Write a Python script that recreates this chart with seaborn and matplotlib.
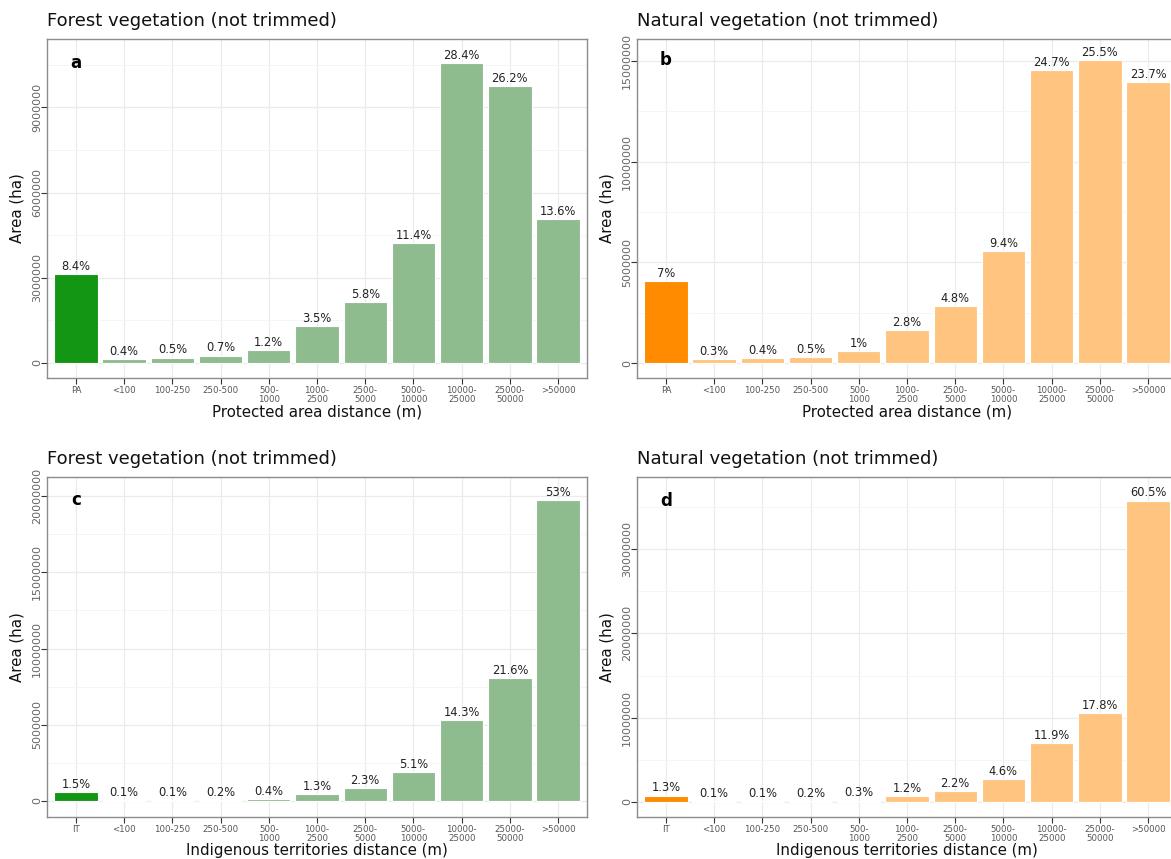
import matplotlib
matplotlib.use("Agg")
import matplotlib.pyplot as plt
from matplotlib.ticker import MultipleLocator, FuncFormatter
import seaborn as sns

# Distance classes
pa_classes = ["PA", "<100", "100-250", "250-500", "500-1000", "1000-2500",
              "2500-5000", "5000-10000", "10000-25000", "25000-50000", ">50000"]
it_classes = ["IT", "<100", "100-250", "250-500", "500-1000", "1000-2500",
              "2500-5000", "5000-10000", "10000-25000", "25000-50000", ">50000"]
pa_ticklabels = ["PA", "<100", "100-250", "250-500", "500-\n1000", "1000-\n2500",
                 "2500-\n5000", "5000-\n10000", "10000-\n25000", "25000-\n50000", ">50000"]
it_ticklabels = ["IT"] + pa_ticklabels[1:]

# Area (ha) per distance class
forest_pa_area = [3.12e6, 0.15e6, 0.19e6, 0.26e6, 0.45e6, 1.29e6, 2.16e6, 4.22e6, 10.56e6, 9.75e6, 5.06e6]
forest_pa_pct = ["8.4%", "0.4%", "0.5%", "0.7%", "1.2%", "3.5%", "5.8%", "11.4%", "28.4%", "26.2%", "13.6%"]

natural_pa_area = [4.09e6, 0.18e6, 0.24e6, 0.30e6, 0.59e6, 1.65e6, 2.83e6, 5.55e6, 14.57e6, 15.05e6, 13.98e6]
natural_pa_pct = ["7%", "0.3%", "0.4%", "0.5%", "1%", "2.8%", "4.8%", "9.4%", "24.7%", "25.5%", "23.7%"]

forest_it_area = [0.56e6, 0.037e6, 0.037e6, 0.075e6, 0.15e6, 0.48e6, 0.86e6, 1.90e6, 5.33e6, 8.05e6, 19.75e6]
forest_it_pct = ["1.5%", "0.1%", "0.1%", "0.2%", "0.4%", "1.3%", "2.3%", "5.1%", "14.3%", "21.6%", "53%"]

natural_it_area = [0.76e6, 0.059e6, 0.059e6, 0.118e6, 0.177e6, 0.71e6, 1.30e6, 2.72e6, 7.03e6, 10.52e6, 35.76e6]
natural_it_pct = ["1.3%", "0.1%", "0.1%", "0.2%", "0.3%", "1.2%", "2.2%", "4.6%", "11.9%", "17.8%", "60.5%"]

FOREST_DARK, FOREST_LIGHT = "#139613", "#8FBC8F"
NATURAL_DARK, NATURAL_LIGHT = "#FF8C00", "#FFC580"

panels = [
    dict(letter="a", title="Forest vegetation (not trimmed)", classes=pa_classes, ticks=pa_ticklabels,
         area=forest_pa_area, pct=forest_pa_pct, colors=(FOREST_DARK, FOREST_LIGHT),
         xlabel="Protected area distance (m)", step=3e6, ylim=(-0.53e6, 11.41e6),
         pos=[47, 39, 540, 339]),
    dict(letter="b", title="Natural vegetation (not trimmed)", classes=pa_classes, ticks=pa_ticklabels,
         area=natural_pa_area, pct=natural_pa_pct, colors=(NATURAL_DARK, NATURAL_LIGHT),
         xlabel="Protected area distance (m)", step=5e6, ylim=(-0.745e6, 16.10e6),
         pos=[637, 39, 540, 339]),
    dict(letter="c", title="Forest vegetation (not trimmed)", classes=it_classes, ticks=it_ticklabels,
         area=forest_it_area, pct=forest_it_pct, colors=(FOREST_DARK, FOREST_LIGHT),
         xlabel="Indigenous territories distance (m)", step=5e6, ylim=(-1.05e6, 21.25e6),
         pos=[47, 477, 540, 340]),
    dict(letter="d", title="Natural vegetation (not trimmed)", classes=it_classes, ticks=it_ticklabels,
         area=natural_it_area, pct=natural_it_pct, colors=(NATURAL_DARK, NATURAL_LIGHT),
         xlabel="Indigenous territories distance (m)", step=10e6, ylim=(-1.78e6, 38.55e6),
         pos=[637, 477, 540, 340]),
]

W, H = 1171, 859
fig = plt.figure(figsize=(W / 100, H / 100), dpi=100)
fig.patch.set_facecolor("white")

for p in panels:
    x0, y0, w, h = p["pos"]
    ax = fig.add_axes([x0 / W, 1 - (y0 + h) / H, w / W, h / H])
    dark, light = p["colors"]
    palette = {c: (dark if i == 0 else light) for i, c in enumerate(p["classes"])}
    sns.barplot(x=p["classes"], y=p["area"], hue=p["classes"], palette=palette,
                order=p["classes"], hue_order=p["classes"], legend=False,
                width=0.9, edgecolor="white", linewidth=0.8, saturation=1, ax=ax)

    for i, (v, lab) in enumerate(zip(p["area"], p["pct"])):
        ax.annotate(lab, (i, v), xytext=(0, 0.8), textcoords="offset points",
                    ha="center", va="bottom", fontsize=8.3, color="#222222")

    ax.text(0, max(p["area"]), p["letter"], ha="center", va="center",
            fontsize=12, fontweight="bold", color="black")

    ax.set_xlim(-0.6, len(p["classes"]) - 0.4)
    ax.set_ylim(*p["ylim"])
    ax.yaxis.set_major_locator(MultipleLocator(p["step"]))
    ax.yaxis.set_minor_locator(MultipleLocator(p["step"] / 2))
    ax.yaxis.set_major_formatter(FuncFormatter(lambda v, pos: f"{v:.0f}"))

    ax.set_xticks(range(len(p["ticks"])))
    ax.set_xticklabels(p["ticks"], fontsize=6.2, color="#555555", linespacing=1.0)
    ax.tick_params(axis="y", labelsize=8.0, labelcolor="#666666", rotation=90,
                   length=4, width=0.8, color="#333333", pad=-0.5)
    ax.tick_params(axis="x", length=4, width=0.8, color="#333333", pad=2)
    ax.tick_params(axis="y", which="minor", length=0)
    for t in ax.get_yticklabels():
        t.set_va("center")

    ax.set_axisbelow(True)
    ax.grid(True, which="major", color="#EBEBEB", linewidth=0.9)
    ax.grid(True, which="minor", axis="y", color="#F4F4F4", linewidth=0.6)
    for s in ax.spines.values():
        s.set_color("#8C8C8C")
        s.set_linewidth(1.0)

    ax.set_xlabel(p["xlabel"], fontsize=10.8, color="#111111", labelpad=0)
    ax.set_ylabel("Area (ha)", fontsize=10.8, color="#111111")
    ax.yaxis.label.set_va("center")
    ax.yaxis.set_label_coords(-30 / w, 0.5)
    ax.set_title(p["title"], loc="left", fontsize=13, color="#111111", pad=9)

fig.savefig("out.png", dpi=100)
